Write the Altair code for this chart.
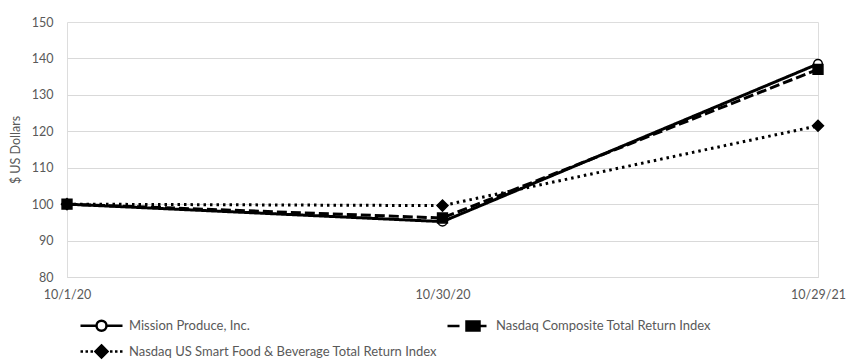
import altair as alt
import pandas as pd

dates = ["10/1/20", "10/30/20", "10/29/21"]
series_names = [
    "Mission Produce, Inc.",
    "Nasdaq Composite Total Return Index",
    "Nasdaq US Smart Food & Beverage Total Return Index",
]
mission = [100, 95.2, 138.5]
nasdaq = [100, 96.2, 137.0]
food = [100, 99.6, 121.5]

rows = []
for name, vals in zip(series_names, [mission, nasdaq, food]):
    for i, (d, v) in enumerate(zip(dates, vals)):
        rows.append({"date": d, "i": i, "series": name, "value": v})
df = pd.DataFrame(rows)

FONT = "Lato"
GRAY = "#595959"

x = alt.X("date:N", sort=dates, title=None,
          scale=alt.Scale(type="point", padding=0),
          axis=alt.Axis(labelAngle=0, ticks=False, domain=True, domainColor="#d9d9d9",
                        labelColor=GRAY, labelFontSize=12.5, labelFont=FONT, labelPadding=11))
y = alt.Y("value:Q", title="$ US Dollars",
          scale=alt.Scale(domain=[80, 150], nice=False),
          axis=alt.Axis(values=[80, 90, 100, 110, 120, 130, 140, 150], ticks=False, domain=False,
                        grid=True, gridColor="#d9d9d9", gridWidth=1,
                        labelColor=GRAY, labelFontSize=12.5, labelFont=FONT, labelPadding=14,
                        titleColor=GRAY, titleFontSize=12.5, titleFont=FONT, titleFontWeight="normal",
                        titlePadding=9,
                        gridOpacity={"condition": {"test": "datum.value == 150", "value": 0}, "value": 1}))

base = alt.Chart(df).transform_calculate(s_line="datum.series", s_pt="datum.series")

lines = base.mark_line(color="black", strokeWidth=3).encode(
    x=x, y=y,
    strokeDash=alt.StrokeDash("s_line:N",
                              scale=alt.Scale(domain=series_names, range=[[1, 0], [10, 4], [2.5, 4]]),
                              legend=None),
    order=alt.Order("i:Q"),
    detail="s_line:N",
)

points = base.mark_point(filled=True, stroke="black", strokeWidth=1.5, opacity=1).encode(
    x=x, y=y,
    shape=alt.Shape("s_pt:N", scale=alt.Scale(domain=series_names, range=["circle", "square", "diamond"]), legend=None),
    fill=alt.Fill("s_pt:N", scale=alt.Scale(domain=series_names, range=["white", "black", "black"]), legend=None),
    size=alt.Size("s_pt:N", scale=alt.Scale(domain=series_names, range=[75, 120, 120]), legend=None),
)

# legend-only layer (column-major layout: Mission, Food | Composite), drawn underneath
legend_order = [series_names[0], series_names[2], series_names[1]]
p_mission = "M-4.2,0H-1M1,0H4.2M-1,0A1,1 0 1,0 1,0A1,1 0 1,0 -1,0Z"
p_nasdaq = ("M-4.2,0H-1.8M1.9,0H3.6"
            "M-0.4,-0.9H2.2V0.9H-0.4ZM-0.2,-0.4H2M-0.2,0H2M-0.2,0.4H2")
p_food = ("M-4.2,0h0.5M-3.2,0h0.5M-2.2,0h0.5M1.7,0h0.5M2.7,0h0.5M3.7,0h0.5"
          "M0,-1.2L1.2,0L0,1.2L-1.2,0ZM-0.7,-0.5H0.7M-1.2,0H1.2M-0.7,0.5H0.7")
legend_layer = alt.Chart(df).mark_point(
    filled=False, stroke="black", strokeWidth=2.5, opacity=1, size=1
).encode(
    x=x, y=y,
    shape=alt.Shape("series:N", sort=legend_order,
                    scale=alt.Scale(domain=legend_order, range=[p_mission, p_food, p_nasdaq]),
                    legend=alt.Legend(title=None, orient="none", legendX=28, legendY=297,
                                      columns=2, columnPadding=5, rowPadding=4,
                                      symbolSize=100, symbolStrokeWidth=2.5, symbolOpacity=1,
                                      symbolStrokeColor="black",
                                      labelColor=GRAY, labelFontSize=13, labelFont=FONT,
                                      labelLimit=400, labelOffset=21)),
)

chart = alt.layer(legend_layer, lines, points).resolve_scale(
    shape="independent", fill="independent", size="independent", strokeDash="independent"
).resolve_legend(
    shape="independent", fill="independent"
).properties(
    width=751, height=255,
    autosize=alt.AutoSizeParams(type="none"),
    padding={"left": 67, "top": 22, "right": 30, "bottom": 84},
).configure_view(stroke=None).configure(background="white")

chart.save("out.html", embed_options={"renderer": "svg", "actions": False})
